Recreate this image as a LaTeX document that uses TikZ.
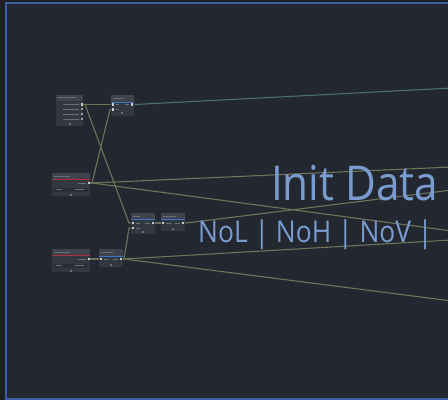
\documentclass[tikz,border=0pt]{standalone}
\usepackage{fontspec}
\setmainfont{Open Sans}
\usetikzlibrary{calc}
\definecolor{outerbg}{HTML}{1E1F22}
\definecolor{canvas}{HTML}{232830}
\definecolor{frameblue}{HTML}{3B5EA4}
\definecolor{nodebody}{HTML}{33373F}
\definecolor{nodehead}{HTML}{3F434B}
\definecolor{linkolive}{HTML}{6E7458}
\definecolor{linkteal}{HTML}{4D6E76}
\definecolor{titleblue}{HTML}{7A9BD0}
\definecolor{redbar}{HTML}{A8343A}
\definecolor{bluebar}{HTML}{3D74C4}
\definecolor{txtc}{HTML}{6A6E76}
\definecolor{portc}{HTML}{C8CCD2}
\definecolor{fieldc}{HTML}{2A2E35}
\tikzset{
  nodebox/.style={draw=none, fill=nodebody, rounded corners=1pt, anchor=north west, inner sep=0pt},
  olive/.style={draw=linkolive, line width=1.1pt, line join=round},
  teal/.style={draw=linkteal, line width=1.1pt, line join=round},
  tbar/.style={draw=txtc, line width=0.9pt},
  portdot/.style={fill=portc},
  titletext/.style={text=titleblue, anchor=base west, inner sep=0pt, transform shape, xscale=0.88},
}
\begin{document}
\begin{tikzpicture}[x=1pt,y=-1pt]
\useasboundingbox (0,0) rectangle (448,400);
\clip (0,0) rectangle (448,400);
\fill[outerbg] (0,0) rectangle (448,400);
\fill[canvas] (6,3) rectangle (460,399);
\draw[frameblue, line width=2.4pt] (6.2,3.2) rectangle (470,398.8);

% ports (coordinates)
\coordinate (Aout) at (82,104.5);
\coordinate (Bin1) at (113,104.5);
\coordinate (Bin2) at (113,109.5);
\coordinate (Bout) at (132,104.5);
\coordinate (Cout) at (89,183);
\coordinate (Dout) at (89,259);
\coordinate (Ein) at (101,259);
\coordinate (Eout) at (121,259);
\coordinate (Fin1) at (133,223);
\coordinate (Fin2) at (133,228);
\coordinate (Fout) at (153,223);
\coordinate (Gin) at (163,223);
\coordinate (Gout) at (183,223);
\coordinate (R1) at (452,88);
\coordinate (R2) at (452,167);
\coordinate (R3) at (452,231);
\coordinate (R4) at (452,190);
\coordinate (R5) at (452,240);
\coordinate (R6) at (452,301);

% connectors
\draw[teal] (Bout) -- ++(3,0) -- (R1);
\draw[olive] (Aout) -- (Bin1);
\draw[olive] (Aout) -- ++(3,0) -- ($(Fin1)+(-4,0)$) -- (Fin1);
\draw[olive] (Cout) -- ++(3,0) -- ($(Bin2)+(-3,0)$) -- (Bin2);
\draw[olive] (Cout) -- ++(3,0) -- (R2);
\draw[olive] (Cout) -- ++(3,0) -- (R3);
\draw[olive] (Dout) -- (Ein);
\draw[olive] (Eout) -- ++(3,0) -- ($(Fin2)+(-4,0)$) -- (Fin2);
\draw[olive] (Eout) -- ++(3,0) -- (R5);
\draw[olive] (Eout) -- ++(3,0) -- (R6);
\draw[olive] (Fout) -- (Gin);
\draw[olive] (Gout) -- ++(3,0) -- (R4);

% node A
\node[nodebox, minimum width=27pt, minimum height=31pt] (A) at (56,95) {};
\fill[nodehead] (56,95) rectangle (83,100.5);
\draw[tbar] (58,97.8) -- (76,97.8);
\foreach \yy in {104.5,109,114,119} \draw[tbar] (63,\yy) -- (79,\yy);
\foreach \yy in {109,114,119} \fill[portc!70!nodebody] (81,\yy-1) rectangle (83,\yy+1);
\fill[txtc] (68.5,123) rectangle (70.5,125);

% node B
\node[nodebox, minimum width=23pt, minimum height=21pt] (B) at (111,95) {};
\fill[nodehead] (111,95) rectangle (134,102);
\fill[bluebar] (111,102) rectangle (134,103);
\draw[tbar] (113,98.5) -- (124,98.5);
\draw[tbar] (116,104.5) -- (119,104.5);
\draw[tbar] (116,109.5) -- (119,109.5);
\draw[tbar] (125,104.5) -- (129,104.5);
\fill[txtc] (121,112) rectangle (123,114);

% node C
\node[nodebox, minimum width=38pt, minimum height=23pt] (C) at (52,173) {};
\fill[nodehead] (52,173) rectangle (90,179);
\fill[redbar] (52,179) rectangle (90,180.2);
\draw[tbar] (54,176) -- (70,176);
\draw[tbar] (78,183) -- (86,183);
\fill[fieldc] (54,187.5) rectangle (88,192);
\draw[tbar] (56,189.8) -- (62,189.8);
\draw[tbar] (75,189.8) -- (84,189.8);
\fill[txtc] (70,194) rectangle (72,196);

% node D
\node[nodebox, minimum width=38pt, minimum height=23pt] (D) at (52,249) {};
\fill[nodehead] (52,249) rectangle (90,255);
\fill[redbar] (52,255) rectangle (90,256.2);
\draw[tbar] (54,252) -- (70,252);
\draw[tbar] (78,259) -- (86,259);
\fill[fieldc] (54,263.5) rectangle (88,268);
\draw[tbar] (56,265.8) -- (62,265.8);
\draw[tbar] (75,265.8) -- (84,265.8);
\fill[txtc] (70,270) rectangle (72,272);

% node E
\node[nodebox, minimum width=24pt, minimum height=18pt] (E) at (99,249) {};
\fill[nodehead] (99,249) rectangle (123,255.5);
\fill[bluebar] (99,255.5) rectangle (123,256.7);
\draw[tbar] (101,252.2) -- (113,252.2);
\draw[tbar] (104,259) -- (108,259);
\draw[tbar] (113,259) -- (118,259);
\fill[txtc] (110,264) rectangle (112,266);

% node F
\node[nodebox, minimum width=24pt, minimum height=21pt] (F) at (131,213) {};
\fill[nodehead] (131,213) rectangle (155,219);
\fill[bluebar] (131,219) rectangle (155,220.2);
\draw[tbar] (133,216) -- (140,216);
\draw[tbar] (136,223) -- (140,223);
\draw[tbar] (136,228) -- (140,228);
\draw[tbar] (145,223) -- (150,223);
\fill[txtc] (142,231) rectangle (144,233);

% node G
\node[nodebox, minimum width=24pt, minimum height=18pt] (G) at (161,213) {};
\fill[nodehead] (161,213) rectangle (185,219);
\fill[bluebar] (161,219) rectangle (185,220.2);
\draw[tbar] (163,216) -- (176,216);
\draw[tbar] (166,223) -- (171,223);
\draw[tbar] (175,223) -- (180,223);
\fill[txtc] (172,227.5) rectangle (174,229.5);

% port dots
\foreach \p in {Aout,Bin1,Bin2,Bout,Cout,Dout,Ein,Eout,Fin1,Fin2,Fout,Gin,Gout}
  \fill[portdot] ($(\p)+(-1.1,-1.1)$) rectangle ($(\p)+(1.1,1.1)$);

% titles
\node[titletext, font=\fontsize{48}{48}\selectfont] (title) at (271,200) {Init Data};
\node[titletext, font=\fontsize{30}{30}\selectfont] (sub) at (198,242) {NoL | NoH | NoV |};
\end{tikzpicture}
\end{document}
